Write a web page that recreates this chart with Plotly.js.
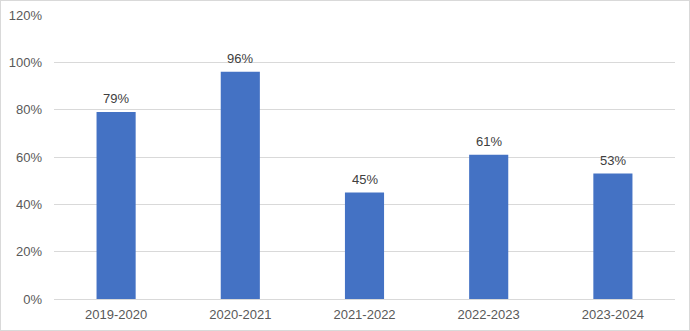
<!DOCTYPE html>
<html><head><meta charset="utf-8">
<script src="https://cdn.plot.ly/plotly-3.0.1.min.js"></script>
<style>
html,body{margin:0;padding:0;background:#fff;}
#wrap{position:relative;width:690px;height:331px;}
#chart{width:690px;height:331px;}
#frame{position:absolute;left:0;top:0;width:690px;height:331px;box-sizing:border-box;border:1px solid #d9d9d9;pointer-events:none;}
</style></head>
<body>
<div id="wrap"><div id="chart"></div><div id="frame"></div></div>
<script>
const categories = ["2019-2020","2020-2021","2021-2022","2022-2023","2023-2024"];
const values = [0.79, 0.96, 0.45, 0.61, 0.53];
const valueLabels = ["79%","96%","45%","61%","53%"];
const yTickVals = [0,0.2,0.4,0.6,0.8,1.0,1.2];
const yTickText = ["0%","20%","40%","60%","80%","100%","120%"];

const FONT = "Liberation Sans, Arial, sans-serif";
const annotations = categories.map((c, i) => ({
  x: c, y: values[i], xref: "x", yref: "y",
  text: valueLabels[i], showarrow: false,
  yanchor: "bottom", yshift: 4,
  font: {family: FONT, size: 13, color: "#404040"}
}));

Plotly.newPlot("chart", [{
  type: "bar",
  x: categories,
  y: values,
  marker: {color: "#4472C4"},
  width: 0.315,
  hoverinfo: "none"
}], {
  width: 690, height: 331,
  margin: {l: 54, r: 15, t: 15, b: 32, pad: 0},
  paper_bgcolor: "#fff", plot_bgcolor: "#fff",
  showlegend: false,
  font: {family: FONT, size: 13, color: "#595959"},
  annotations: annotations,
  xaxis: {type: "category", showgrid: false, zeroline: false, showline: true, linecolor: "#d9d9d9", linewidth: 1, ticks: "", ticklabelstandoff: 3, tickfont: {size: 13, color: "#595959"}},
  yaxis: {range: [0, 1.2], tickvals: yTickVals, ticktext: yTickText, showgrid: true, gridcolor: "#d9d9d9", gridwidth: 1, zeroline: false, showline: false, ticks: "", ticklabelstandoff: 11, tickfont: {size: 13, color: "#595959"}}
}, {displayModeBar: false, staticPlot: true});
</script>
</body></html>
